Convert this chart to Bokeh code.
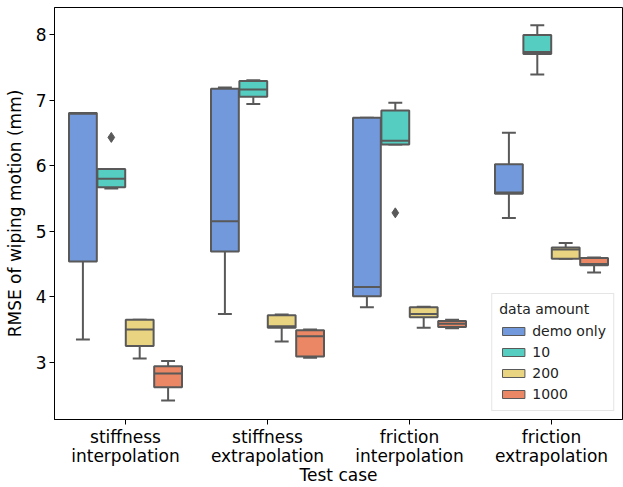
from bokeh.plotting import figure
from bokeh.models import ColumnDataSource, Range1d, FixedTicker, Legend, LegendItem
from bokeh.embed import file_html
from bokeh.resources import INLINE

# ---- data ----
cases = ["stiffness\ninterpolation", "stiffness\nextrapolation",
         "friction\ninterpolation", "friction\nextrapolation"]
amounts = ["demo only", "10", "200", "1000"]
colors = ["#7199dc", "#55cdc0", "#e8d481", "#eb8764"]

demo_low = [3.35, 3.74, 3.84, 5.20]
demo_q1 = [4.54, 4.69, 4.01, 5.57]
demo_med = [6.79, 5.15, 4.15, 5.59]
demo_q3 = [6.80, 7.17, 6.73, 6.02]
demo_high = [6.80, 7.19, 6.73, 6.50]

ten_low = [5.65, 6.94, 6.32, 7.39]
ten_q1 = [5.67, 7.05, 6.32, 7.70]
ten_med = [5.80, 7.16, 6.38, 7.73]
ten_q3 = [5.95, 7.29, 6.84, 7.99]
ten_high = [5.95, 7.30, 6.96, 8.14]

two_low = [3.06, 3.32, 3.53, 4.58]
two_q1 = [3.25, 3.53, 3.69, 4.58]
two_med = [3.50, 3.55, 3.74, 4.72]
two_q3 = [3.65, 3.72, 3.84, 4.75]
two_high = [3.65, 3.73, 3.85, 4.82]

k_low = [2.42, 3.07, 3.52, 4.37]
k_q1 = [2.62, 3.09, 3.54, 4.48]
k_med = [2.83, 3.40, 3.59, 4.50]
k_q3 = [2.94, 3.49, 3.63, 4.59]
k_high = [3.02, 3.50, 3.65, 4.60]

outlier_case = [0, 2]
outlier_amount = [1, 1]
outlier_value = [6.43, 5.28]

y_ticks = [3, 4, 5, 6, 7, 8]

stats = [
    (demo_low, demo_q1, demo_med, demo_q3, demo_high),
    (ten_low, ten_q1, ten_med, ten_q3, ten_high),
    (two_low, two_q1, two_med, two_q3, two_high),
    (k_low, k_q1, k_med, k_q3, k_high),
]

FONT = "DejaVu Sans"
EDGE = "#595959"
LW = 2

p = figure(width=623, height=487, output_backend="svg", toolbar_location=None,
           x_range=Range1d(-0.5, 3.5), y_range=Range1d(2.13, 8.41),
           min_border_left=54, min_border_right=1, min_border_top=7,
           min_border_bottom=66)
p.xgrid.visible = False
p.ygrid.visible = False
p.outline_line_color = "black"
p.outline_line_width = 1
p.background_fill_color = "white"
p.border_fill_color = "white"

n_h = len(amounts)
group_w = 0.8
box_w = group_w / n_h * 0.98
offsets = [(-group_w / 2 + group_w / n_h * (i + 0.5)) for i in range(n_h)]

for h, (lo, q1, med, q3, hi) in enumerate(stats):
    xs = [c + offsets[h] for c in range(len(cases))]
    src = ColumnDataSource(dict(
        x=xs,
        left=[x - box_w / 2 for x in xs],
        right=[x + box_w / 2 for x in xs],
        cl=[x - box_w / 4 for x in xs],
        cr=[x + box_w / 4 for x in xs],
        lo=lo, q1=q1, med=med, q3=q3, hi=hi,
    ))
    p.segment(x0="x", x1="x", y0="q3", y1="hi", source=src, line_color=EDGE, line_width=LW)
    p.segment(x0="x", x1="x", y0="q1", y1="lo", source=src, line_color=EDGE, line_width=LW)
    p.segment(x0="cl", x1="cr", y0="hi", y1="hi", source=src, line_color=EDGE, line_width=LW)
    p.segment(x0="cl", x1="cr", y0="lo", y1="lo", source=src, line_color=EDGE, line_width=LW)
    p.quad(left="left", right="right", bottom="q1", top="q3", source=src,
           fill_color=colors[h], line_color=EDGE, line_width=LW)
    p.segment(x0="left", x1="right", y0="med", y1="med", source=src,
              line_color=EDGE, line_width=LW)

osrc = ColumnDataSource(dict(
    x=[outlier_case[i] + offsets[outlier_amount[i]] for i in range(len(outlier_value))],
    y=outlier_value))
p.scatter(x="x", y="y", source=osrc, marker="diamond", size=10,
          fill_color=EDGE, line_color=EDGE)

# legend (proxy renderers placed outside the visible range)
items = []
for h, name in enumerate(amounts):
    r = p.quad(left=[-10], right=[-9.9], bottom=[0], top=[0.1], fill_color=colors[h],
               line_color=EDGE, line_width=1)
    items.append(LegendItem(label=name, renderers=[r]))
legend = Legend(items=items, location="bottom_right", title="data amount",
                title_text_font=FONT, title_text_font_size="14px",
                title_text_font_style="normal", title_text_color="#222222",
                label_text_font=FONT, label_text_font_size="14px",
                label_text_color="#222222",
                glyph_width=28, glyph_height=10, label_height=18, spacing=3,
                padding=7, margin=8, border_line_color="#cccccc",
                border_line_width=1, background_fill_alpha=0.85)
p.add_layout(legend)

# axes
p.xaxis.ticker = FixedTicker(ticks=list(range(len(cases))))
p.xaxis.major_label_overrides = {i: c for i, c in enumerate(cases)}
p.yaxis.ticker = FixedTicker(ticks=y_ticks)
p.xaxis.axis_label = "Test case"
p.yaxis.axis_label = "RMSE of wiping motion (mm)"
for ax in (p.xaxis[0], p.yaxis[0]):
    ax.axis_label_text_font = FONT
    ax.axis_label_text_font_size = "17px"
    ax.axis_label_text_font_style = "normal"
    ax.axis_label_text_color = "black"
    ax.major_label_text_font = FONT
    ax.major_label_text_font_size = "17px"
    ax.major_label_text_color = "black"
    ax.axis_line_color = "black"
    ax.major_tick_line_color = "black"
    ax.major_tick_out = 5
    ax.major_tick_in = 0
    ax.minor_tick_line_color = None
    ax.major_label_standoff = 3
p.xaxis[0].major_label_text_line_height = 0.95
p.xaxis[0].major_label_standoff = 2
p.xaxis[0].axis_label_standoff = -4
p.xaxis[0].axis_label_text_line_height = 1.0
p.yaxis[0].axis_label_standoff = 8

open("out.html", "w").write(file_html(p, INLINE))
